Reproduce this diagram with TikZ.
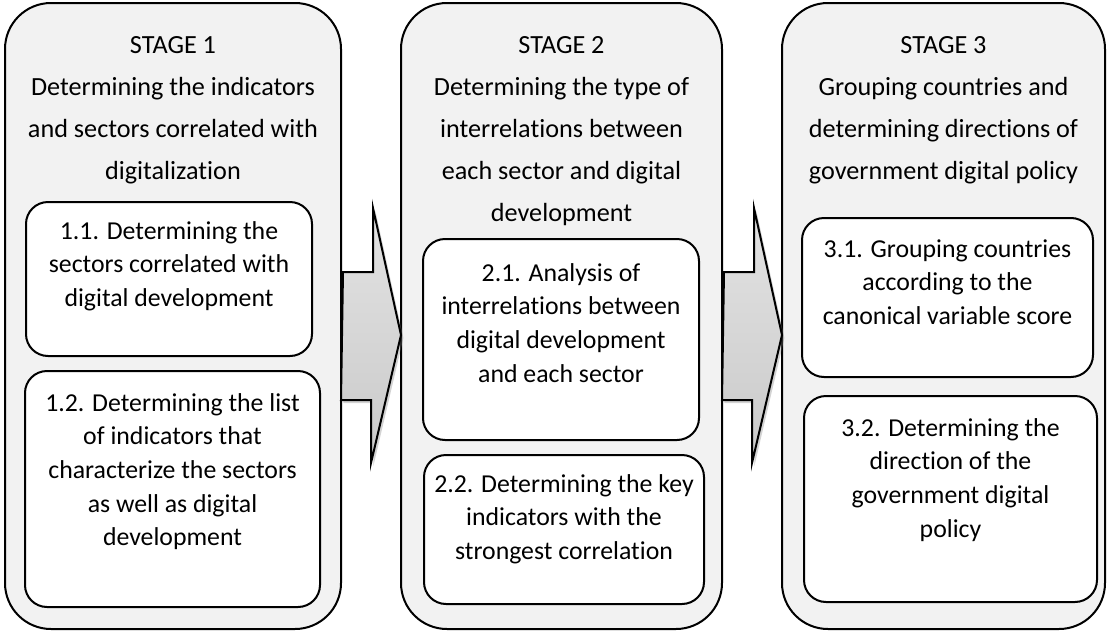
\documentclass[tikz,border=0pt]{standalone}
\usepackage{fontspec}
\setmainfont{Carlito}[Ligatures=NoCommon]
\usetikzlibrary{calc,fit,shadows}

\tikzset{
  stagebox/.style={draw, line width=1pt, fill=gray!10, rounded corners=23pt, inner sep=0pt},
  subbox/.style={draw, line width=1pt, fill=white, rounded corners=11pt, inner sep=0pt},
  stagetext/.style={anchor=north, inner sep=0pt, align=center, font=\fontsize{13.1}{21}\selectfont},
  subtext/.style={anchor=north, inner sep=0pt, align=center, font=\fontsize{12.9}{16.8}\selectfont},
  bigarrow/.style={draw, line width=1pt, line join=miter, top color=gray!22, bottom color=gray!42,
    drop shadow={shadow xshift=1.2pt, shadow yshift=-1.5pt, opacity=0.35, fill=gray}},
}

\begin{document}
\begin{tikzpicture}[x=0.5pt, y=-0.5pt]
\useasboundingbox (0,0) rectangle (1110,632);

% stages
    \node[stagebox, fit={(5,3) (341,629)}] (s1) {};
    \node[stagebox, fit={(401,3) (722,629)}] (s2) {};
    \node[stagebox, fit={(782,3) (1105,629)}] (s3) {};

	 % arrows between stages
	 \foreach \a/\b in {s1/s2, s2/s3}{
			\draw[bigarrow] ($(\a.east)+(1,-44)$) -- ++(30,0) -- ++(0,-64)
			   -- ($(\b.west)+(1,19)$) -- ++(-30,128) -- ++(0,-63) -- ++(-30,0) -- cycle;
	 }

    \node[stagetext] (t1) at ($(s1.north)+(0,34)$) {STAGE 1\\Determining the indicators\\and sectors correlated with\\digitalization};
    \node[stagetext] (t2) at ($(s2.north)+(0,34)$) {STAGE 2\\Determining the type of\\interrelations between\\each sector and digital\\development};
    \node[stagetext] (t3) at ($(s3.north)+(0,34)$) {STAGE 3\\Grouping countries and\\determining directions of\\government digital policy};

% steps
    \node[subbox, fit={(26,202) (312,356)}] (b11) {};
    \node[subtext] (b11t) at ($(b11.north)+(0,20)$) {1.1. Determining the\\sectors correlated with\\digital development};
    \node[subbox, fit={(25,371) (320,607)}] (b12) {};
    \node[subtext] (b12t) at ($(b12.north)+(0,23)$) {1.2. Determining the list\\of indicators that\\characterize the sectors\\as well as digital\\development};

    \node[subbox, fit={(423,239) (699,440)}] (b21) {};
    \node[subtext] (b21t) at ($(b21.north)+(0,25)$) {2.1. Analysis of\\interrelations between\\digital development\\and each sector};
    \node[subbox, fit={(424,455) (704,604)}] (b22) {};
    \node[subtext] (b22t) at ($(b22.north)+(0,20)$) {2.2. Determining the key\\indicators with the\\strongest correlation};

    \node[subbox, fit={(802,218) (1093,377)}] (b31) {};
    \node[subtext] (b31t) at ($(b31.north)+(0,22)$) {3.1. Grouping countries\\according to the\\canonical variable score};
    \node[subbox, fit={(804,396) (1097,602)}] (b32) {};
    \node[subtext] (b32t) at ($(b32.north)+(0,23)$) {3.2. Determining the\\direction of the\\government digital\\policy};

\end{tikzpicture}
\end{document}
